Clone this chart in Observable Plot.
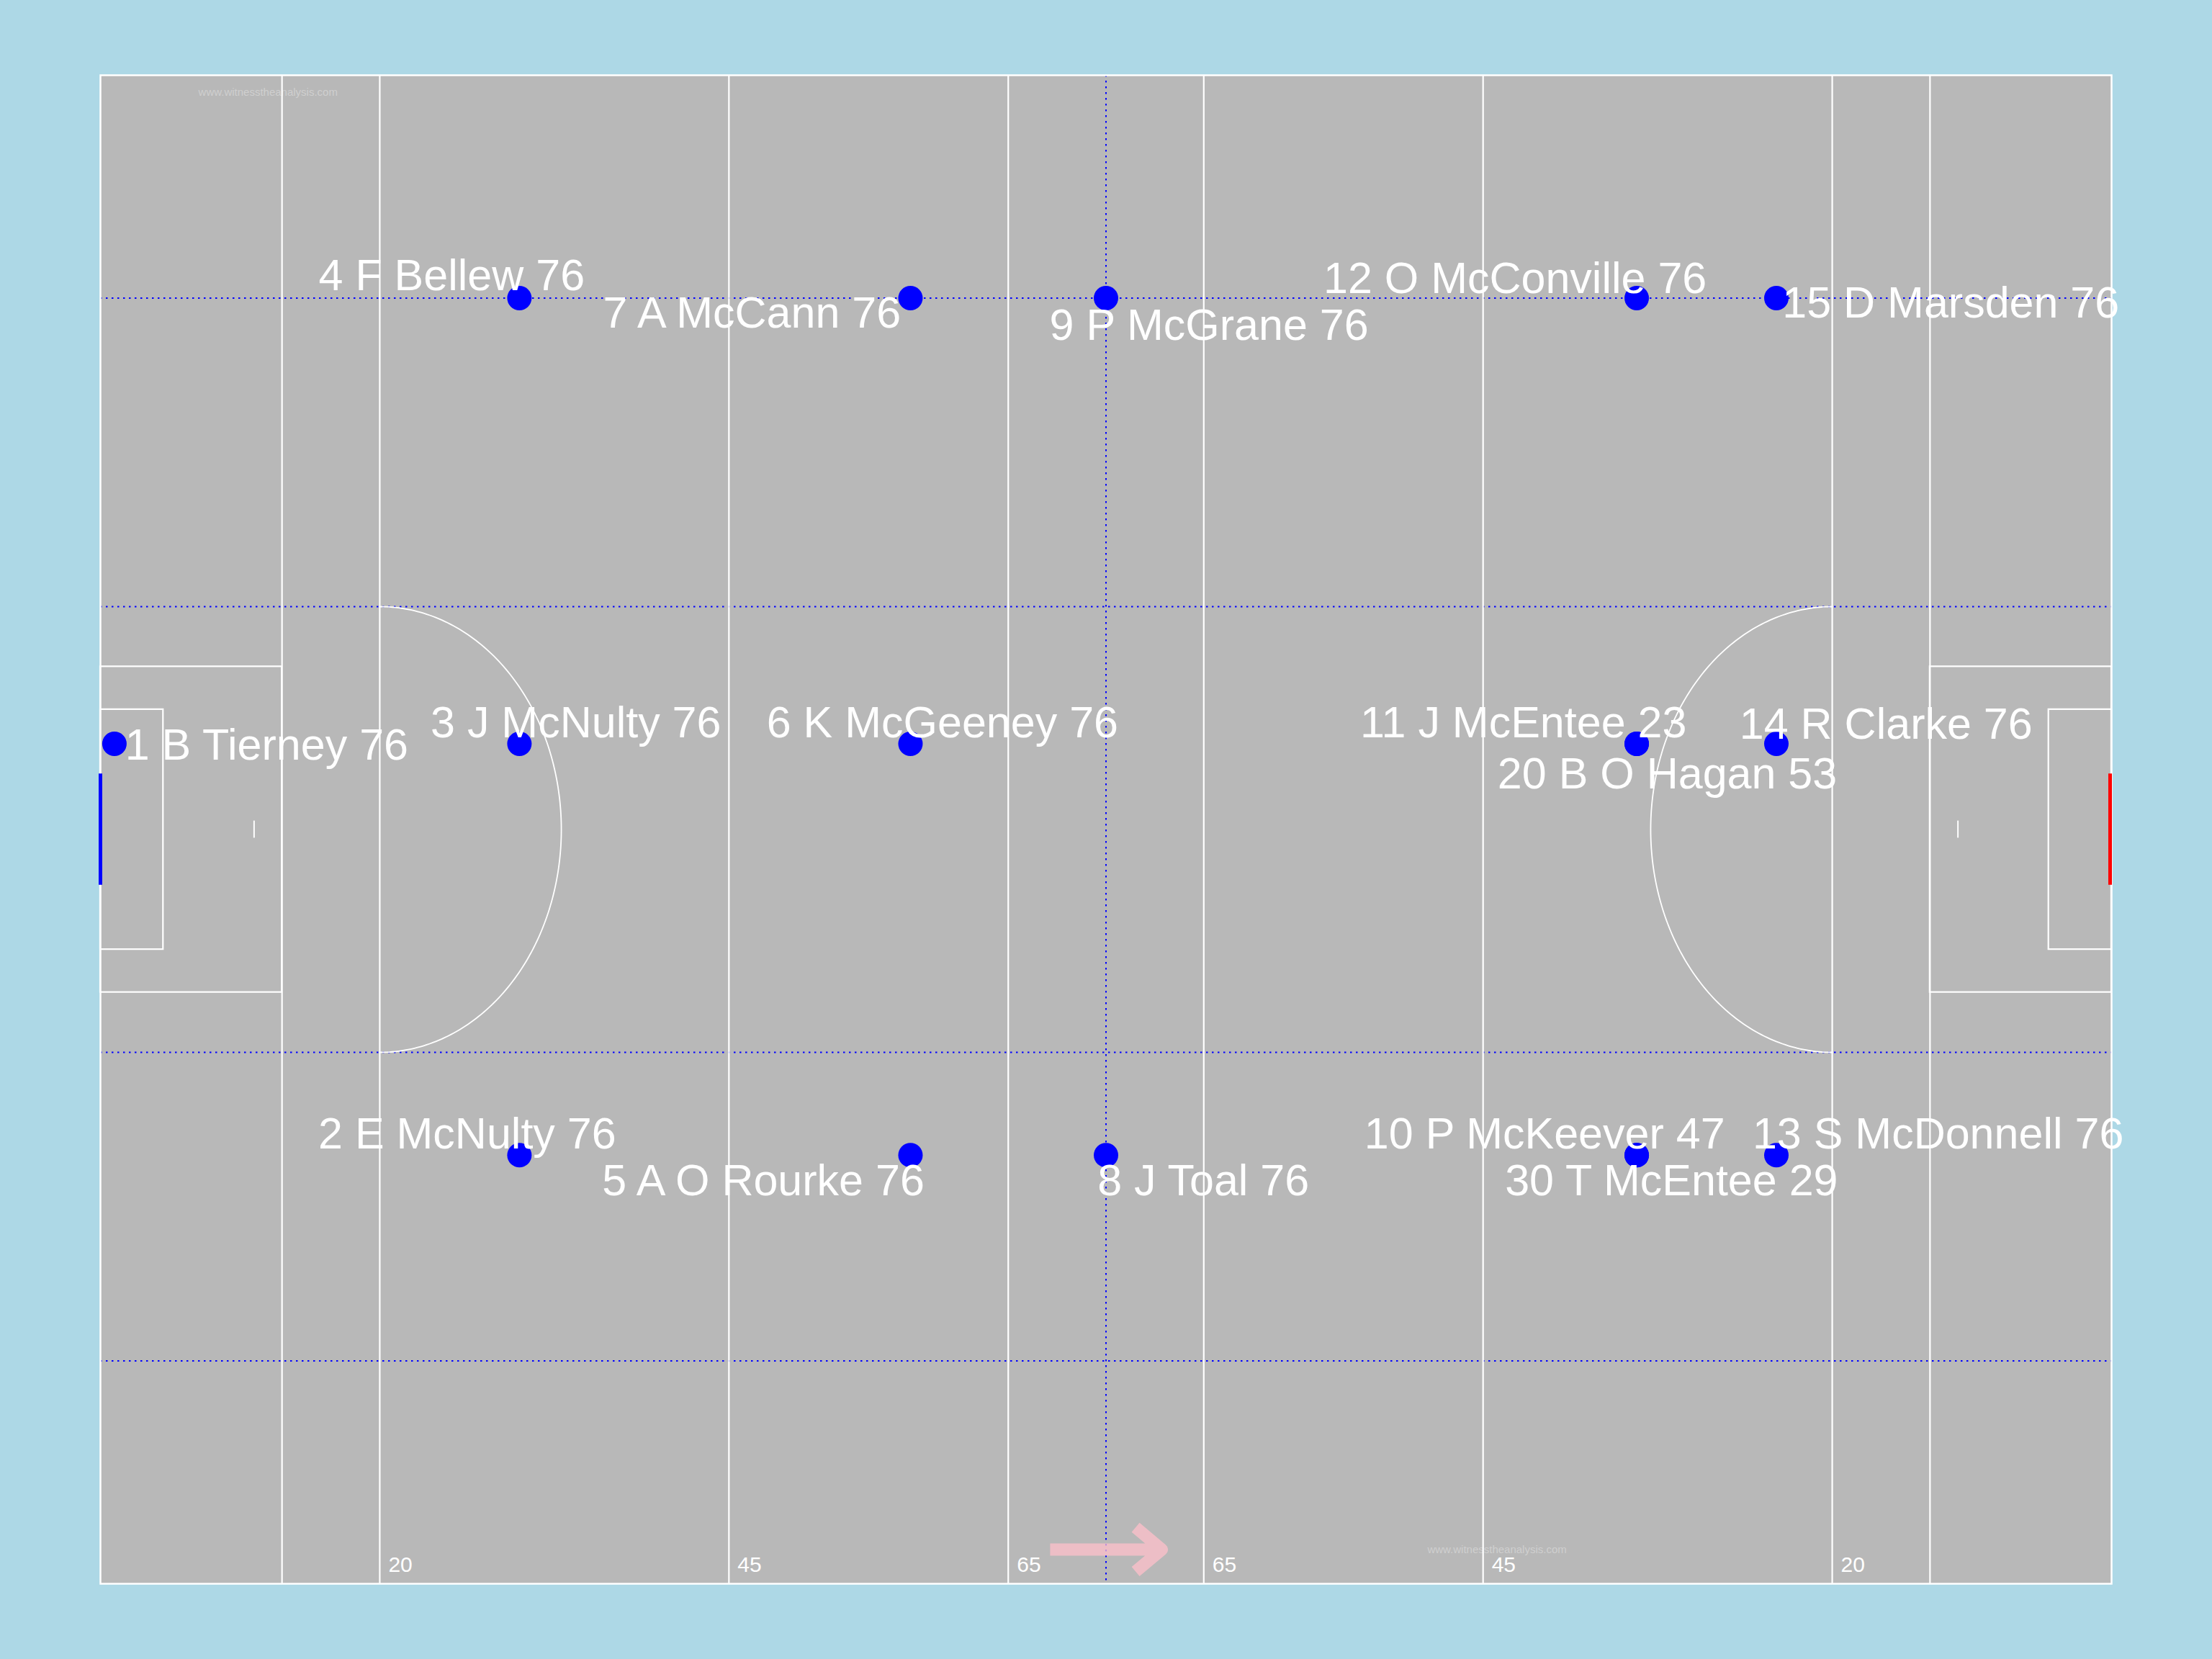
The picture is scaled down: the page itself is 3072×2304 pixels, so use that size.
<!DOCTYPE html>
<html><head><meta charset="utf-8">
<script src="https://cdn.jsdelivr.net/npm/d3@7"></script>
<script src="https://cdn.jsdelivr.net/npm/@observablehq/plot@0.6"></script>
<style>html,body{margin:0;padding:0;background:#ADD8E6;} #chart svg{display:block;}</style>
</head><body><div id="chart"></div>
<script>
// ---- pitch geometry (metres) ----
const PITCH_LENGTH = 144;
const PITCH_WIDTH = 88;
const fullLineX = [13, 20, 45, 65, 79, 99, 124, 131];
const distanceLabelText = ["20", "45", "65", "65", "45", "20"];
const distanceLabelX = [20, 45, 65, 79, 99, 124];
const gridY = [13, 31, 57, 75];
const gridX = [72];
const boxDepth = [13, 4.5];
const boxHalfWidth = [9.5, 7];
const arcCenterX = [20, 124];
const arcDirection = [1, -1];
const ARC_RADIUS = 13;
const penaltySpotX = [11, 133];
const goalHalfWidth = 3.25;
const watermarkText = ["www.witnesstheanalysis.com", "www.witnesstheanalysis.com"];
const watermarkX = [12, 100];
const watermarkY = [87, 2];
const arrowFromX = [68];
const arrowToX = [76];
const arrowY = [2];

// ---- players ----
const playerNumbers = [1, 2, 3, 4, 5, 6, 7, 8, 9, 10, 11, 12, 13, 14, 15, 20, 30];
const playerNames = ["B Tierney", "E McNulty", "J McNulty", "F Bellew", "A O Rourke", "K McGeeney", "A McCann", "J Toal", "P McGrane", "P McKeever", "J McEntee", "O McConville", "S McDonnell", "R Clarke", "D Marsden", "B O Hagan", "T McEntee"];
const minutesPlayed = [76, 76, 76, 76, 76, 76, 76, 76, 76, 47, 23, 76, 76, 76, 76, 53, 29];
const positionX = [1, 30, 30, 30, 58, 58, 58, 72, 72, 110, 110, 110, 120, 120, 120, 110, 110];
const positionY = [49, 25, 49, 75, 25, 49, 75, 25, 75, 25, 49, 75, 25, 49, 75, 49, 25];
// repelled label anchor positions (metres)
const labelX = [11.9, 26.26, 34.04, 25.15, 47.46, 60.29, 46.65, 78.97, 79.38, 103.41, 101.89, 101.29, 131.58, 127.85, 132.49, 112.19, 112.49];
const labelY = [48.9, 26.2, 50.2, 76.3, 23.5, 50.2, 74.1, 23.5, 73.4, 26.2, 50.2, 76.1, 26.2, 50.1, 74.7, 47.2, 23.5];

// ---- derived tables ----
const centerY = PITCH_WIDTH / 2;
const boxes = [];
boxDepth.forEach((depth, i) => {
  boxes.push({x1: 0, x2: depth, y1: centerY - boxHalfWidth[i], y2: centerY + boxHalfWidth[i]});
  boxes.push({x1: PITCH_LENGTH - depth, x2: PITCH_LENGTH, y1: centerY - boxHalfWidth[i], y2: centerY + boxHalfWidth[i]});
});
const arcs = [];
arcCenterX.forEach((cx, i) => {
  d3.range(0, 181).forEach(a => {
    const t = (a - 90) * Math.PI / 180;
    arcs.push({arc: i, x: cx + arcDirection[i] * ARC_RADIUS * Math.cos(t), y: centerY + ARC_RADIUS * Math.sin(t)});
  });
});
const playerLabels = playerNumbers.map((n, i) => `${n} ${playerNames[i]} ${minutesPlayed[i]}`);

const LINE = "white";
const chart = Plot.plot({
  width: 3072,
  height: 2304,
  marginLeft: 139,
  marginRight: 140,
  marginTop: 104,
  marginBottom: 105,
  x: {domain: [0, PITCH_LENGTH], axis: null},
  y: {domain: [0, PITCH_WIDTH], axis: null},
  style: {background: "#ADD8E6", fontFamily: "Liberation Sans, Arial, sans-serif"},
  marks: [
    Plot.frame({fill: "#B8B8B8", stroke: null}),
    Plot.text(watermarkText, {x: watermarkX, y: watermarkY, text: d => d, fill: "#CFCFCF", fontSize: 15, fontFamily: "Liberation Sans, Arial", textAnchor: "middle", lineAnchor: "middle"}),
    Plot.ruleY(gridY, {stroke: "blue", strokeWidth: 2, strokeDasharray: "2.5,5.5"}),
    Plot.ruleX(gridX, {stroke: "blue", strokeWidth: 2, strokeDasharray: "2.5,5.5"}),
    Plot.ruleX(fullLineX, {y1: 0, y2: PITCH_WIDTH, stroke: LINE, strokeWidth: 2.2}),
    Plot.rect(boxes, {x1: "x1", x2: "x2", y1: "y1", y2: "y2", fill: "none", stroke: LINE, strokeWidth: 2.2}),
    Plot.line(arcs, {x: "x", y: "y", z: "arc", stroke: LINE, strokeWidth: 1.8}),
    Plot.ruleX(penaltySpotX, {y1: centerY - 0.5, y2: centerY + 0.5, stroke: LINE, strokeWidth: 2}),
    Plot.frame({stroke: LINE, strokeWidth: 2.5}),
    Plot.ruleX([0], {y1: centerY - goalHalfWidth, y2: centerY + goalHalfWidth, stroke: "blue", strokeWidth: 5}),
    Plot.ruleX([PITCH_LENGTH], {y1: centerY - goalHalfWidth, y2: centerY + goalHalfWidth, stroke: "red", strokeWidth: 5, dx: -2}),
    Plot.text(distanceLabelText, {x: distanceLabelX, y: 0, text: d => d, fill: "white", fontSize: 30, textAnchor: "start", lineAnchor: "bottom", dx: 12, dy: -17}),
    Plot.arrow(arrowFromX, {x1: arrowFromX, x2: arrowToX, y1: arrowY, y2: arrowY, stroke: "pink", strokeOpacity: 0.75, strokeWidth: 17, headLength: 4.2, headAngle: 80, strokeLinecap: "butt", strokeLinejoin: "round"}),
    Plot.dot(playerLabels, {x: positionX, y: positionY, r: 17, fill: "blue", stroke: null}),
    Plot.text(playerLabels, {x: labelX, y: labelY, text: d => d, fill: "white", fontSize: 61, textAnchor: "middle", lineAnchor: "middle"})
  ]
});
document.getElementById("chart").appendChild(chart);
</script></body></html>
